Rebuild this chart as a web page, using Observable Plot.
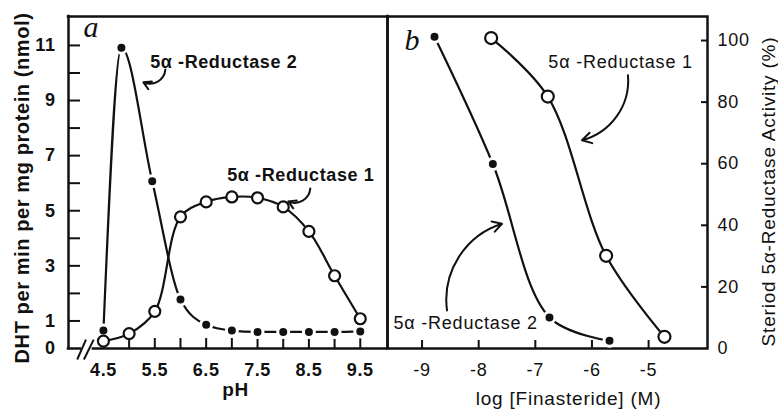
<!DOCTYPE html>
<html><head><meta charset="utf-8">
<script src="https://cdn.jsdelivr.net/npm/d3@7"></script>
<script src="https://cdn.jsdelivr.net/npm/@observablehq/plot@0.6"></script>
<style>
body{margin:0;background:#fff}
#wrap{position:relative;width:778px;height:411px;overflow:hidden}
#wrap svg{position:absolute;top:0}
</style>
</head><body><div id="wrap"></div>
<script>
// ---- data ----
const pH1 = [4.5, 5.0, 5.5, 6.0, 6.5, 7.0, 7.5, 8.0, 8.5, 9.0, 9.5];
const dhtReductase1 = [0.27, 0.54, 1.35, 4.78, 5.32, 5.5, 5.47, 5.14, 4.25, 2.64, 1.08];
const pH2 = [4.5, 4.85, 5.45, 6.0, 6.5, 7.0, 7.5, 8.0, 8.5, 9.0, 9.5];
const dhtReductase2 = [0.65, 10.92, 6.07, 1.78, 0.86, 0.65, 0.6, 0.6, 0.6, 0.6, 0.62];
const logFin1 = [-7.78, -6.78, -5.75, -4.72];
const activityReductase1 = [100.8, 81.8, 30.1, 3.8];
const logFin2 = [-8.78, -7.75, -6.75, -5.69];
const activityReductase2 = [101.2, 59.9, 10.1, 2.5];
const pHTickLabels = [4.5, 5.5, 6.5, 7.5, 8.5, 9.5];
const pHTicks = [4.5, 5.0, 5.5, 6.0, 6.5, 7.0, 7.5, 8.0, 8.5, 9.0, 9.5];
const dhtTickLabels = [0, 1, 3, 5, 7, 9, 11];
const dhtTicks = [1, 2, 3, 4, 5, 6, 7, 8, 9, 10, 11];
const logTickLabels = [-9, -8, -7, -6, -5];
const activityTickLabels = [0, 20, 40, 60, 80, 100];
const activityTicks = [20, 40, 60, 80, 100];
const label1 = "5\u03b1 -Reductase 1";
const label2 = "5\u03b1 -Reductase 2";

// ---- layout ----
const sans = "'Liberation Sans', Arial, Helvetica, sans-serif";
const serif = "'Liberation Serif', 'Times New Roman', serif";
const xA = [3.82, 10.03], yA = [0, 12.05];
const xB = [-9.61, -3.96], yB = [0, 107.8];
const lw = 2.2, fw = 2.5;

const left = Plot.plot({
  width: 390, height: 411, marginLeft: 68, marginRight: 3, marginTop: 16, marginBottom: 63,
  x: {domain: xA}, y: {domain: yA},
  style: {fontFamily: sans, fontSize: "18px", fontWeight: "bold", background: "transparent", overflow: "visible", letterSpacing: "0.6px", color: "#111"},
  marks: [
    Plot.ruleX([xA[0]], {y1: yA[0], y2: yA[1], strokeWidth: fw, strokeLinecap: "square"}),
    Plot.ruleX([xA[1]], {y1: yA[0], y2: yA[1], strokeWidth: fw, strokeLinecap: "square"}),
    Plot.ruleY([yA[1]], {x1: xA[0], x2: xA[1], strokeWidth: fw, strokeLinecap: "square"}),
    Plot.ruleY([0], {x1: xA[0], x2: 4.05, strokeWidth: fw, strokeLinecap: "square"}),
    Plot.ruleY([0], {x1: 4.28, x2: xA[1], strokeWidth: fw}),
    Plot.link([0, 1], {x1: [3.99, 4.12], x2: [4.16, 4.31], y1: -0.4, y2: 0.32, strokeWidth: 2}),
    Plot.axisY(dhtTicks, {tickSize: -12, fill: "none", label: null, strokeWidth: 2}),
    Plot.axisY(dhtTickLabels, {tickSize: 0, tickPadding: 13, label: null}),
    Plot.axisX(pHTicks, {tickSize: -10, fill: "none", label: null, strokeWidth: 2}),
    Plot.axisX(pHTickLabels, {tickSize: 0, tickPadding: 15, label: null, tickFormat: d => d.toFixed(1)}),
    Plot.line(pH1, {x: pH1, y: dhtReductase1, curve: "catmull-rom", strokeWidth: lw}),
    Plot.line(pH2, {x: pH2, y: dhtReductase2, curve: "monotone-x", strokeWidth: lw}),
    Plot.dot(pH2, {x: pH2, y: dhtReductase2, r: 5.5, fill: "#111", stroke: "white", strokeWidth: 3}),
    Plot.dot(pH1, {x: pH1, y: dhtReductase1, r: 5.5, fill: "white", stroke: "#111", strokeWidth: lw}),
    Plot.text([label2], {x: 5.41, y: 10.38, text: d => d, textAnchor: "start", lineAnchor: "middle"}),
    Plot.text([label1], {x: 6.91, y: 6.28, text: d => d, textAnchor: "start", lineAnchor: "middle"}),
    Plot.arrow([0], {x1: 5.706, y1: 10.13, x2: 5.278, y2: 9.66, bend: 55, strokeWidth: 2, headLength: 7}),
    Plot.arrow([0], {x1: 8.527, y1: 5.81, x2: 8.099, y2: 5.34, bend: 55, strokeWidth: 2, headLength: 7}),
    Plot.text(["a"], {x: 4.11, y: 11.29, text: d => d, textAnchor: "start", lineAnchor: "bottom", fontFamily: serif, fontStyle: "italic", fontWeight: "normal", fontSize: 30}),
    Plot.text(["pH"], {frameAnchor: "bottom", text: d => d, dx: 7.5, dy: 41, textAnchor: "middle", lineAnchor: "middle", fontSize: 19}),
    Plot.text(["DHT per min per mg protein (nmol)"], {frameAnchor: "left", text: d => d, rotate: -90, dx: -45.5, dy: 5.5, textAnchor: "middle", lineAnchor: "middle", fontSize: 20})
  ]
});

const right = Plot.plot({
  width: 394, height: 411, marginLeft: 3, marginRight: 71, marginTop: 16, marginBottom: 63,
  x: {domain: xB}, y: {domain: yB},
  style: {fontFamily: sans, fontSize: "18px", fontWeight: "normal", background: "transparent", overflow: "visible", letterSpacing: "0.8px", color: "#111"},
  marks: [
    Plot.frame({strokeWidth: fw}),
    Plot.axisY(activityTicks, {anchor: "right", tickSize: -7, fill: "none", label: null, strokeWidth: 2}),
    Plot.axisY(activityTickLabels, {anchor: "right", tickSize: 0, tickPadding: 10, label: null}),
    Plot.axisX(logTickLabels, {tickSize: -8, fill: "none", label: null, strokeWidth: 2}),
    Plot.axisX(logTickLabels, {tickSize: 0, tickPadding: 15, label: null, tickFormat: d => String(d)}),
    Plot.line(logFin1, {x: logFin1, y: activityReductase1, curve: "catmull-rom", strokeWidth: lw}),
    Plot.line(logFin2, {x: logFin2, y: activityReductase2, curve: "catmull-rom", strokeWidth: lw}),
    Plot.dot(logFin2, {x: logFin2, y: activityReductase2, r: 5.5, fill: "#111", stroke: "white", strokeWidth: 3}),
    Plot.dot(logFin1, {x: logFin1, y: activityReductase1, r: 6, fill: "white", stroke: "#111", strokeWidth: lw}),
    Plot.text([label1], {x: -6.77, y: 92.9, text: d => d, textAnchor: "start", lineAnchor: "middle"}),
    Plot.text([label2], {x: -9.506, y: 8.1, text: d => d, textAnchor: "start", lineAnchor: "middle"}),
    Plot.arrow([0], {x1: -5.364, y1: 88.7, x2: -6.176, y2: 67.6, bend: 40, strokeWidth: 2, headLength: 8}),
    Plot.arrow([0], {x1: -8.559, y1: 12.35, x2: -7.588, y2: 40.5, bend: 40, strokeWidth: 2, headLength: 8}),
    Plot.text(["b"], {x: -9.312, y: 96.85, text: d => d, textAnchor: "start", lineAnchor: "bottom", fontFamily: serif, fontStyle: "italic", fontSize: 30}),
    Plot.text(["log [Finasteride] (M)"], {frameAnchor: "bottom", text: d => d, dx: 21, dy: 50, textAnchor: "middle", lineAnchor: "middle", fontSize: 19}),
    Plot.text(["Steriod 5\u03b1-Reductase Activity (%)"], {frameAnchor: "right", text: d => d, rotate: -90, dx: 61, dy: 9, textAnchor: "middle", lineAnchor: "middle", fontSize: 19})
  ]
});

const wrap = document.getElementById("wrap");
left.style.left = "0px";
right.style.left = "384px";
wrap.appendChild(left);
wrap.appendChild(right);
</script>
</body></html>
